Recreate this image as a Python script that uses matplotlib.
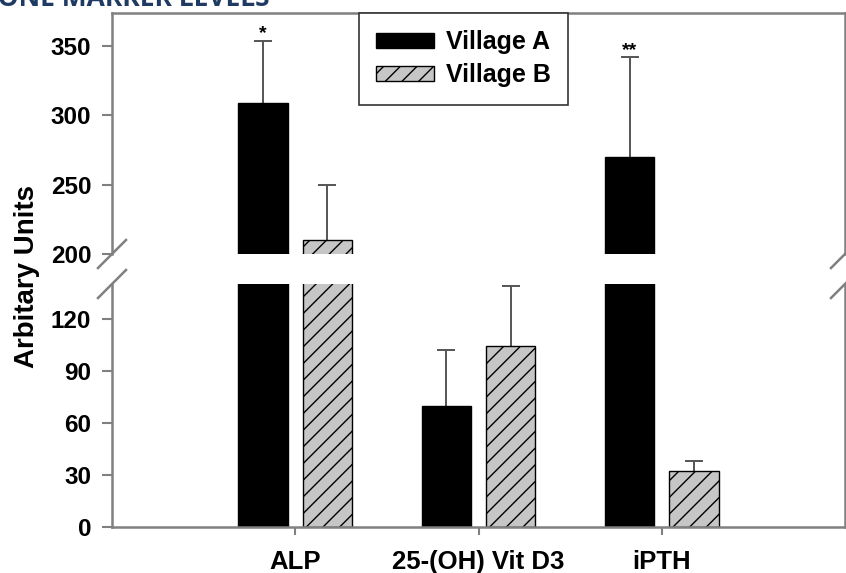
import matplotlib
matplotlib.use('Agg')
import matplotlib.pyplot as plt
import numpy as np

categories = ['ALP', '25-(OH) Vit D3', 'iPTH']
series_names = ['Village A', 'Village B']
village_a = [309, 70, 270]
village_b = [210, 104, 32]
err_a = [45, 32, 72]
err_b = [40, 35, 6]
significance = ['*', '', '**']
top_ticks = [200, 250, 300, 350]
bottom_ticks = [0, 30, 60, 90, 120]
title_text = 'BONE MARKER LEVELS'
y_label = 'Arbitary Units'

plt.rcParams['font.family'] = ['Liberation Sans', 'DejaVu Sans']
plt.rcParams['font.weight'] = 'bold'
plt.rcParams['hatch.linewidth'] = 1.0

W, H = 846, 573
fig = plt.figure(figsize=(W / 100, H / 100), dpi=100)
left = 112 / W
width = (845 - 112) / W
ax_top = fig.add_axes([left, 1 - 254 / H, width, (254 - 13) / H])
ax_bot = fig.add_axes([left, 1 - 527 / H, width, (527 - 284) / H])

x = np.arange(len(categories))
bw = 0.27
off = 0.175
spine_col = '#808080'
err_col = '#555555'

handles = None
for ax in (ax_top, ax_bot):
    ax.errorbar(x - off, village_a, yerr=err_a, fmt='none', ecolor=err_col,
                elinewidth=1.4, capsize=6.5, capthick=1.4, zorder=1)
    ax.errorbar(x + off, village_b, yerr=err_b, fmt='none', ecolor=err_col,
                elinewidth=1.4, capsize=6.5, capthick=1.4, zorder=1)
    ba = ax.bar(x - off, village_a, bw, color='black', edgecolor='black',
                lw=1, label=series_names[0], zorder=2)
    bb = ax.bar(x + off, village_b, bw, color='#c6c6c6', edgecolor='black',
                hatch='//', lw=1, label=series_names[1], zorder=2)
    if handles is None:
        handles = [ba, bb]
    ax.set_xlim(-1, 3)
    for s in ax.spines.values():
        s.set_color(spine_col)
        s.set_linewidth(1.8)
    ax.tick_params(axis='y', colors=spine_col, labelcolor='black', length=7,
                   width=1.5, labelsize=17.5, pad=8)

ax_top.set_ylim(200, 374)
ax_top.set_yticks(top_ticks)
ax_top.spines['bottom'].set_visible(False)
ax_top.tick_params(axis='x', bottom=False, labelbottom=False)

ax_bot.set_ylim(0, 140)
ax_bot.set_yticks(bottom_ticks)
ax_bot.spines['top'].set_visible(False)
ax_bot.set_xticks(x)
ax_bot.set_xticklabels(categories)
ax_bot.tick_params(axis='x', colors=spine_col, labelcolor='black', length=6,
                   width=1.5, labelsize=18.5, pad=10.5)

# break marks
d = 14
for xa in (0, 1):
    dx = d / 733
    dy = d / 241
    ax_top.plot([xa - dx, xa + dx], [-dy, dy], transform=ax_top.transAxes,
                clip_on=False, color=spine_col, lw=1.8)
    dy = d / 243
    ax_bot.plot([xa - dx, xa + dx], [1 - dy, 1 + dy], transform=ax_bot.transAxes,
                clip_on=False, color=spine_col, lw=1.8)

for i, s in enumerate(significance):
    if s:
        ax_top.annotate(s, (x[i] - off, village_a[i] + err_a[i]), xytext=(0, 5),
                        textcoords='offset points', ha='center', va='center',
                        fontsize=14, fontweight='bold')

leg = ax_top.legend(handles=handles, loc='upper left',
                    bbox_to_anchor=(359 / W, 1 - 13 / H), bbox_transform=fig.transFigure,
                    fontsize=18, frameon=True, fancybox=False, edgecolor='#333333',
                    framealpha=1, borderpad=0.69, labelspacing=0.36, handlelength=2.3,
                    handleheight=0.6, handletextpad=0.5, borderaxespad=0)
leg.get_frame().set_linewidth(1.2)

fig.text(27 / W, 1 - 277 / H, y_label, rotation=90, ha='center', va='center',
         fontsize=20, fontweight='bold')
fig.text(-20 / W, 1 - 6 / H, title_text, ha='left', va='baseline', fontsize=19,
         color='#1F3B63', family=['Open Sans', 'DejaVu Sans'], fontweight='bold')

fig.savefig('out.png', dpi=100)
